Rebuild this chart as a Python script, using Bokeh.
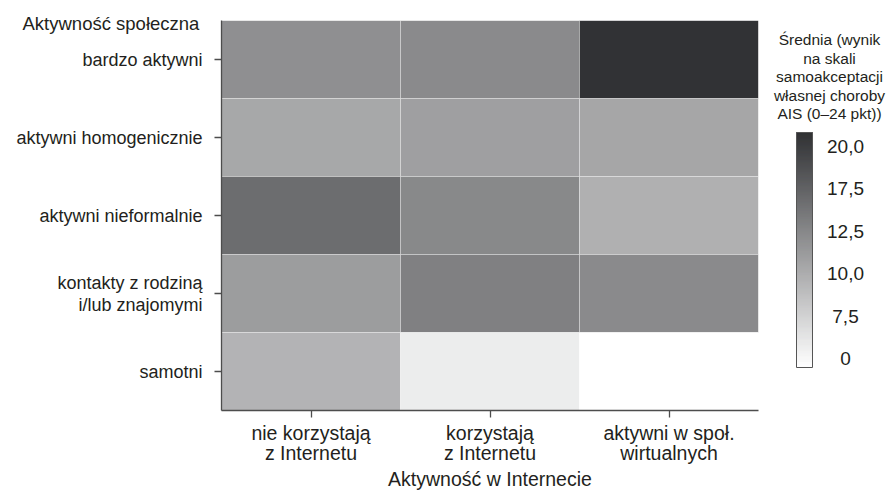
import numpy as np
from bokeh.plotting import figure
from bokeh.models import FactorRange, Range1d, LinearColorMapper, ColumnDataSource, Title
from bokeh.transform import transform
from bokeh.layouts import row
from bokeh.core.properties import value
from bokeh.embed import file_html
from bokeh.resources import INLINE

# ---------------- data ----------------
ROWS = ["bardzo aktywni", "aktywni homogenicznie", "aktywni nieformalnie",
        "kontakty z rodziną\ni/lub znajomymi", "samotni"]
COLS = ["nie korzystają\nz Internetu", "korzystają\nz Internetu", "aktywni w społ.\nwirtualnych"]
NIE_KORZYSTAJA = [11.7, 10.1, 15.3, 10.85, 9.35]
KORZYSTAJA = [12.0, 10.65, 12.15, 12.8, 2.1]
AKTYWNI_WIRT = [20.2, 10.25, 9.6, 12.0, float("nan")]
TICK_VALUES = [0.0, 7.5, 10.0, 12.5, 17.5, 20.0]
TICK_LABELS = ["0", "7,5", "10,0", "12,5", "17,5", "20,0"]
CB_TITLE = ["Średnia (wynik", "na skali", "samoakceptacji", "własnej choroby", "AIS (0–24 pkt))"]
X_TITLE = "Aktywność w Internecie"
Y_TITLE = "Aktywność społeczna"

FONT = "Liberation Sans"
TEXT = "#231f20"
AXIS = "#4d4d4d"

# colour scale (equal spacing between the colour-bar tick labels)
light = np.array([255, 255, 255])
dark = np.array([40, 41, 44])
palette = ["#%02x%02x%02x" % tuple(np.round(light + (dark - light) * t).astype(int))
           for t in np.linspace(0, 1, 256)]
STEP = 42.4          # px between colour-bar ticks
BAR_TOP, BAR_BOT, TICK0 = 132, 367, 358
K_LOW = -(BAR_BOT - TICK0) / STEP
K_HIGH = (TICK0 - BAR_TOP) / STEP
mapper = LinearColorMapper(palette=palette, low=K_LOW, high=K_HIGH, nan_color="white")


def to_pos(v):
    v = np.asarray(v, dtype=float)
    k = np.interp(v, TICK_VALUES, np.arange(len(TICK_VALUES)))
    over = (TICK_VALUES[-1] - TICK_VALUES[-2])
    k = np.where(v > TICK_VALUES[-1], len(TICK_VALUES) - 1 + (v - TICK_VALUES[-1]) / over, k)
    return k


xs, ys, vals = [], [], []
for c, series in zip(COLS, [NIE_KORZYSTAJA, KORZYSTAJA, AKTYWNI_WIRT]):
    for r, v in zip(ROWS, series):
        xs.append(c); ys.append(r); vals.append(v)
vals = np.array(vals, dtype=float)
src = ColumnDataSource(dict(col=xs, row=ys, val=vals, pos=to_pos(vals)))

# ---------------- main heatmap ----------------
H = 493
FRAME_TOP, FRAME_BOT = 20, 410
p = figure(width=768, height=H,
           x_range=FactorRange(*COLS), y_range=FactorRange(*ROWS[::-1]),
           output_backend="svg", toolbar_location=None,
           min_border_left=221, min_border_top=FRAME_TOP, min_border_right=10,
           min_border_bottom=H - FRAME_BOT)
p.rect(x="col", y="row", width=1, height=1, source=src,
       fill_color=transform("pos", mapper), line_color="white", line_alpha=0.3, line_width=1)

for ax in (p.xaxis, p.yaxis):
    ax.axis_line_color = AXIS
    ax.axis_line_width = 1.3
    ax.major_tick_line_color = AXIS
    ax.major_tick_line_width = 1.3
    ax.major_tick_out = 7
    ax.major_tick_in = 0
    ax.minor_tick_line_color = None
    ax.major_label_text_font = FONT
    ax.major_label_text_color = TEXT
p.yaxis.major_label_text_font_size = "18px"
p.yaxis.major_label_text_line_height = 1.1
p.yaxis.major_label_standoff = 12
p.xaxis.major_label_text_font_size = "19.5px"
p.xaxis.major_label_text_line_height = 0.92
p.xaxis.major_label_standoff = 4
p.xaxis.axis_label = X_TITLE
p.xaxis.axis_label_text_font = FONT
p.xaxis.axis_label_text_font_size = "19.5px"
p.xaxis.axis_label_text_font_style = "normal"
p.xaxis.axis_label_text_color = TEXT
p.xaxis.axis_label_standoff = 1
p.xgrid.grid_line_color = None
p.ygrid.grid_line_color = None
p.outline_line_color = None

# y-axis title, horizontal, at the top-left of the frame
p.add_layout(Title(text=Y_TITLE, align="left", offset=-199, standoff=-26,
                   text_font=FONT, text_font_size="18.5px", text_font_style="normal",
                   text_color=TEXT), "above")

# ---------------- colour bar ----------------
p2 = figure(width=120, height=H, x_range=Range1d(768, 888), y_range=Range1d(FRAME_BOT, FRAME_TOP),
            x_axis_type=None, y_axis_type=None, output_backend="svg", toolbar_location=None,
            min_border_left=0, min_border_right=0, min_border_top=FRAME_TOP,
            min_border_bottom=H - FRAME_BOT)
p2.outline_line_color = None
p2.xgrid.grid_line_color = None
p2.ygrid.grid_line_color = None

N = 235
edges = np.linspace(K_LOW, K_HIGH, N + 1)
kmid = (edges[:-1] + edges[1:]) / 2
bar = ColumnDataSource(dict(k=kmid, bottom=TICK0 - edges[:-1] * STEP, top=TICK0 - edges[1:] * STEP))
p2.quad(left=796, right=812, bottom="bottom", top="top", source=bar,
        fill_color=transform("k", mapper), line_color=transform("k", mapper), line_width=0.6)
p2.quad(left=796, right=812, top=BAR_TOP, bottom=BAR_BOT, fill_color=None,
        line_color="#555555", line_width=1)

tick_src = ColumnDataSource(dict(y=TICK0 - np.arange(len(TICK_LABELS)) * STEP, t=TICK_LABELS))
p2.text(x=845, y="y", text="t", source=tick_src, text_align="center", text_baseline="middle",
        text_font=value(FONT), text_font_size="19px", text_color=TEXT)

title_src = ColumnDataSource(dict(y=39 + np.arange(len(CB_TITLE)) * 18.6, t=CB_TITLE))
p2.text(x=829, y="y", text="t", source=title_src, text_align="center", text_baseline="middle",
        text_font=value(FONT), text_font_size="15.5px", text_color=TEXT)

layout = row(p, p2)
open("out.html", "w").write(file_html(layout, INLINE))
